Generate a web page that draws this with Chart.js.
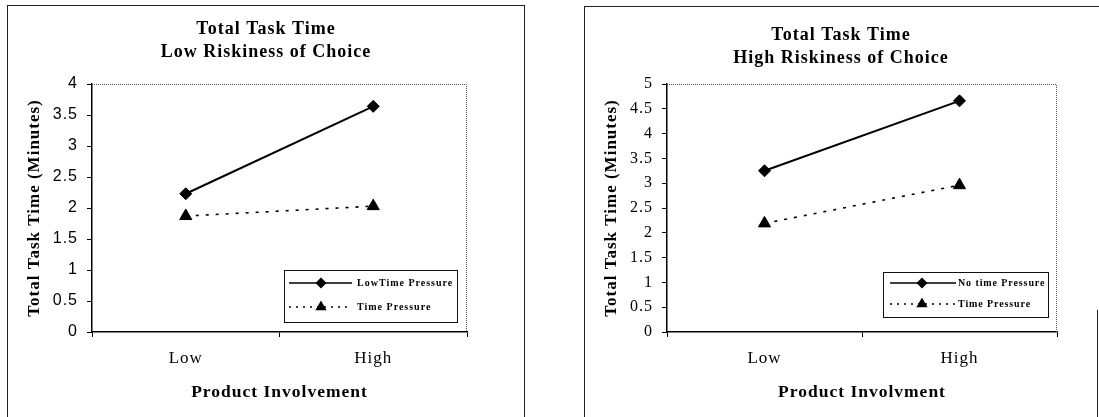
<!DOCTYPE html>
<html>
<head>
<meta charset="utf-8">
<script src="https://cdn.jsdelivr.net/npm/chart.js@4"></script>
<style>
  html, body { margin: 0; padding: 0; background: #fff; }
  body { width: 1099px; height: 417px; position: relative; overflow: hidden; }
  .frame { position: absolute; box-sizing: border-box; }
  .holder { position: absolute; }
</style>
</head>
<body>
<div class="frame" style="left:7px;top:5px;width:518px;height:420px;border:1px solid #222;border-bottom:none"></div>
<div class="frame" style="left:584px;top:6px;width:520px;height:420px;border-left:1px solid #222;border-top:1px solid #222"></div>
<div class="frame" style="left:1097px;top:310px;width:1px;height:110px;background:#222"></div>

<div class="holder" style="left:8px;top:6px;width:516px;height:411px"><canvas id="lowRiskChart"></canvas></div>
<div class="holder" style="left:585px;top:7px;width:512px;height:410px"><canvas id="highRiskChart"></canvas></div>

<script>
// Product involvement levels on the x axis
const involvementLevels = ['Low', 'High'];

// Total task time in minutes, low riskiness of choice
const lowRiskLowPressure = [2.23, 3.64];
const lowRiskTimePressure = [1.87, 2.03];

// Total task time in minutes, high riskiness of choice
const highRiskNoPressure = [3.25, 4.66];
const highRiskTimePressure = [2.19, 2.96];

// Y axis tick labels
const lowRiskYTicks = ['0', '0.5', '1', '1.5', '2', '2.5', '3', '3.5', '4'];
const highRiskYTicks = ['0', '0.5', '1', '1.5', '2', '2.5', '3', '3.5', '4', '4.5', '5'];

const SERIF = '"Liberation Serif", "Times New Roman", serif';
const SANS = '"Liberation Sans", Arial, sans-serif';

// Applies a letter spacing to every text the chart draws
const textSpacing = {
  id: 'textSpacing',
  beforeDraw(chart, args, opts) {
    chart.ctx.letterSpacing = opts.value || '0px';
  }
};

// Dotted top and right edge of the plot area
const plotFrame = {
  id: 'plotFrame',
  beforeDatasetsDraw(chart) {
    const { ctx, chartArea: a } = chart;
    ctx.save();
    ctx.strokeStyle = '#555';
    ctx.lineWidth = 1;
    ctx.setLineDash([1, 1]);
    ctx.beginPath();
    ctx.moveTo(a.left, a.top + 0.5);
    ctx.lineTo(a.right - 0.5, a.top + 0.5);
    ctx.lineTo(a.right - 0.5, a.bottom);
    ctx.stroke();
    ctx.restore();
  }
};

// Boxed legend placed inside the lower right of the plot area
const insetLegend = {
  id: 'insetLegend',
  afterDatasetsDraw(chart, args, o) {
    const { ctx, chartArea: a } = chart;
    const x0 = Math.round(a.right - o.right - o.width);
    const y0 = Math.round(a.bottom - o.bottom - o.height);
    ctx.save();
    ctx.setLineDash([]);
    ctx.fillStyle = '#fff';
    ctx.fillRect(x0, y0, o.width, o.height);
    ctx.strokeStyle = '#111';
    ctx.lineWidth = 1;
    ctx.strokeRect(x0 + 0.5, y0 + 0.5, o.width, o.height);
    chart.data.datasets.forEach((ds, i) => {
      const y = y0 + o.rowTop + i * o.rowGap;
      ctx.strokeStyle = '#000';
      ctx.fillStyle = '#000';
      ctx.lineWidth = 1.5;
      ctx.setLineDash(ds.borderDash ? [2, 5] : []);
      ctx.beginPath();
      ctx.moveTo(x0 + o.lineStart, y);
      ctx.lineTo(x0 + o.lineEnd, y);
      ctx.stroke();
      ctx.setLineDash([]);
      Chart.helpers.drawPoint(ctx, {
        pointStyle: ds.pointStyle,
        radius: ds.pointStyle === 'triangle' ? 5 : 4.5,
        borderWidth: 1,
        rotation: 0
      }, x0 + o.marker, y);
      ctx.letterSpacing = o.letterSpacing;
      ctx.font = 'bold ' + o.fontSize + 'px ' + SERIF;
      ctx.textAlign = 'left';
      ctx.textBaseline = 'middle';
      ctx.fillText(ds.label, x0 + o.textX, y);
    });
    ctx.restore();
  }
};

function seriesStyle(label, data, dashed) {
  return {
    label: label,
    data: data,
    borderColor: '#000',
    backgroundColor: '#000',
    pointBackgroundColor: '#000',
    pointBorderColor: '#000',
    borderWidth: dashed ? 1.6 : 2,
    borderDash: dashed ? [3, 7] : undefined,
    pointStyle: dashed ? 'triangle' : 'rectRot',
    pointRadius: dashed ? 7 : 6,
    pointBorderWidth: 1,
    tension: 0,
    fill: false
  };
}

function buildChart(canvasId, p) {
  return new Chart(document.getElementById(canvasId), {
    type: 'line',
    data: {
      labels: involvementLevels,
      datasets: [
        seriesStyle(p.names[0], p.series[0], false),
        seriesStyle(p.names[1], p.series[1], true)
      ]
    },
    plugins: [textSpacing, plotFrame, insetLegend],
    options: {
      responsive: true,
      maintainAspectRatio: false,
      animation: false,
      events: [],
      layout: { padding: 0 },
      plugins: {
        legend: { display: false },
        tooltip: { enabled: false },
        textSpacing: { value: '1px' },
        title: {
          display: true,
          text: p.title,
          color: '#000',
          font: { family: SERIF, size: 18, weight: 'bold', lineHeight: p.titleLine / 18 },
          padding: p.titlePadding
        },
        insetLegend: p.legend
      },
      scales: {
        x: {
          type: 'category',
          offset: true,
          grid: { offset: true, drawOnChartArea: false, drawTicks: true, tickLength: 5, color: '#000', lineWidth: 1 },
          border: { display: true, color: '#000', width: 1.5 },
          ticks: { padding: 11, color: '#000', font: { family: SERIF, size: 17 } },
          title: {
            display: true,
            text: p.xTitle,
            color: '#000',
            font: { family: SERIF, size: 17.5, weight: 'bold' },
            padding: { top: 0, bottom: 14.5 }
          },
          afterFit(s) { s.height = p.xHeight; }
        },
        y: {
          position: 'left',
          min: 0,
          max: p.yMax,
          grid: { drawOnChartArea: false, drawTicks: true, tickLength: 5, color: '#000', lineWidth: 1 },
          border: { display: true, color: '#000', width: 1.5 },
          ticks: {
            stepSize: 0.5,
            autoSkip: false,
            padding: 9,
            color: '#000',
            font: p.tickFont,
            callback: (v, i) => p.yTicks[i]
          },
          title: {
            display: true,
            text: 'Total Task Time (Minutes)',
            color: '#000',
            font: { family: SERIF, size: 17, weight: 'bold' },
            padding: { top: 16.8, bottom: 0 }
          },
          afterFit(s) { s.width = p.yWidth; }
        },
        side: {
          position: 'right',
          display: true,
          grid: { display: false },
          border: { display: false },
          ticks: { display: false },
          afterFit(s) { s.width = p.rightGap; }
        }
      }
    }
  });
}

buildChart('lowRiskChart', {
  title: ['Total Task Time', 'Low Riskiness of Choice'],
  titleLine: 23,
  titlePadding: { top: 11.5, bottom: 20.5 },
  xTitle: 'Product Involvement',
  xHeight: 85,
  yWidth: 84,
  rightGap: 57,
  yMax: 4,
  yTicks: lowRiskYTicks,
  tickFont: { family: SANS, size: 16 },
  names: ['LowTime Pressure', 'Time Pressure'],
  series: [lowRiskLowPressure, lowRiskTimePressure],
  legend: {
    right: 10, bottom: 10, width: 173, height: 52,
    rowTop: 13, rowGap: 24,
    lineStart: 5, lineEnd: 68, marker: 37, textX: 73,
    fontSize: 10, letterSpacing: '1px'
  }
});

buildChart('highRiskChart', {
  title: ['Total Task Time', 'High Riskiness of Choice'],
  titleLine: 22.6,
  titlePadding: { top: 17.4, bottom: 14.4 },
  xTitle: 'Product Involvment',
  xHeight: 85,
  yWidth: 82,
  rightGap: 40,
  yMax: 5,
  yTicks: highRiskYTicks,
  tickFont: { family: SERIF, size: 16 },
  names: ['No time Pressure', 'Time Pressure'],
  series: [highRiskNoPressure, highRiskTimePressure],
  legend: {
    right: 9, bottom: 15, width: 165, height: 45,
    rowTop: 11, rowGap: 21,
    lineStart: 7, lineEnd: 73, marker: 39, textX: 75,
    fontSize: 10, letterSpacing: '0.9px'
  }
});
</script>
</body>
</html>
